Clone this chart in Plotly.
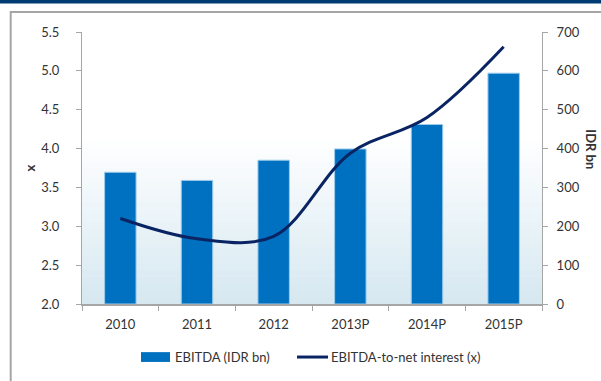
import plotly.graph_objects as go

years = ["2010", "2011", "2012", "2013P", "2014P", "2015P"]
ebitda_idr_bn = [339, 318, 370, 399, 462, 594]
ebitda_to_net_interest = [3.10, 2.84, 2.87, 3.94, 4.40, 5.31]

bar_name = "EBITDA (IDR bn)"
line_name = "EBITDA-to-net interest (x)"

FONT = "Lato, 'Open Sans', sans-serif"
TEXT = "#333333"
BAR_BLUE = "#0070c0"
LINE_NAVY = "#0a2463"
AXIS_GREY = "#a6a6a6"

fig = go.Figure()

# bars on the primary (right-hand) axis so the ratio line is drawn on top of them
fig.add_trace(go.Bar(
    x=years, y=ebitda_idr_bn, name=bar_name, yaxis="y",
    marker=dict(color=BAR_BLUE, line=dict(color="#9ccbea", width=1)),
    width=0.41, showlegend=False,
))
fig.add_trace(go.Scatter(
    x=years, y=ebitda_to_net_interest, name=line_name,
    mode="lines", line=dict(color=LINE_NAVY, width=3, shape="spline", smoothing=1.0),
    yaxis="y2", showlegend=False,
))

# soft vertical gradient inside the plotting area (white at the top, pale blue at the base)
shapes = []
n = 40
top_c = (255, 255, 255)
bot_c = (214, 232, 241)
for i in range(n):
    y0 = i / n
    y1 = (i + 1) / n
    t = min(1.0, (y0 + y1) / 2 / 0.62)
    c = tuple(round(bot_c[k] + (top_c[k] - bot_c[k]) * t) for k in range(3))
    shapes.append(dict(type="rect", xref="x domain", yref="y domain",
                       x0=0, x1=1, y0=y0, y1=y1 + 0.002, layer="below",
                       line=dict(width=0), fillcolor="rgb(%d,%d,%d)" % c))

# page frame and header band
shapes.append(dict(type="rect", xref="paper", yref="paper",
                   x0=-0.155, x1=1.2, y0=-0.4, y1=1.0735,
                   line=dict(color=AXIS_GREY, width=2), fillcolor="rgba(0,0,0,0)"))
shapes.append(dict(type="rect", xref="paper", yref="paper",
                   x0=-0.3, x1=1.2, y0=1.1048, y1=1.2,
                   line=dict(width=0), fillcolor="#003b73"))

# legend keys drawn in paper space: wide bar swatch and a line sample
leg_y = -0.195
shapes.append(dict(type="rect", xref="paper", yref="paper",
                   x0=(141 - 82) / 460, x1=(170 - 82) / 460,
                   y0=leg_y - 0.018, y1=leg_y + 0.018,
                   line=dict(width=0), fillcolor=BAR_BLUE))
shapes.append(dict(type="line", xref="paper", yref="paper",
                   x0=(297 - 82) / 460, x1=(328 - 82) / 460,
                   y0=leg_y, y1=leg_y,
                   line=dict(color=LINE_NAVY, width=3)))

annotations = [
    dict(text=bar_name, xref="paper", yref="paper", x=(173 - 82) / 460, y=leg_y,
         xanchor="left", yanchor="middle", showarrow=False, font=dict(size=13, color=TEXT)),
    dict(text=line_name, xref="paper", yref="paper", x=(329 - 82) / 460, y=leg_y,
         xanchor="left", yanchor="middle", showarrow=False, font=dict(size=13, color=TEXT)),
    dict(text="<b>IDR bn</b>", xref="paper", yref="paper",
         x=1.084, y=0.57, xanchor="left", yanchor="middle",
         textangle=90, showarrow=False, font=dict(size=13, color=TEXT)),
]

fig.update_layout(
    width=601, height=381,
    margin=dict(l=82, r=59, t=32, b=77),
    paper_bgcolor="white", plot_bgcolor="rgba(0,0,0,0)",
    font=dict(family=FONT, size=13, color=TEXT),
    showlegend=False,
    xaxis=dict(showgrid=False, showline=True, linecolor=AXIS_GREY, linewidth=1.5,
               ticks="outside", ticklen=5, tickcolor=AXIS_GREY, tickson="boundaries",
               ticklabelstandoff=8, tickfont=dict(size=13)),
    yaxis=dict(range=[0, 700], dtick=100, side="right",
               showgrid=False, showline=True, linecolor=AXIS_GREY, linewidth=1,
               ticks="outside", ticklen=5, tickcolor=AXIS_GREY, zeroline=False,
               ticklabelstandoff=6),
    yaxis2=dict(range=[2.0, 5.5], dtick=0.5, tickformat=".1f", showgrid=False,
                overlaying="y", side="left",
                showline=True, linecolor=AXIS_GREY, linewidth=1, ticks="outside",
                ticklen=5, tickcolor=AXIS_GREY, zeroline=False, ticklabelstandoff=14,
                title=dict(text="<b>x</b>", standoff=2, font=dict(size=13))),
    shapes=shapes,
    annotations=annotations,
)

fig.write_html("out.html")
